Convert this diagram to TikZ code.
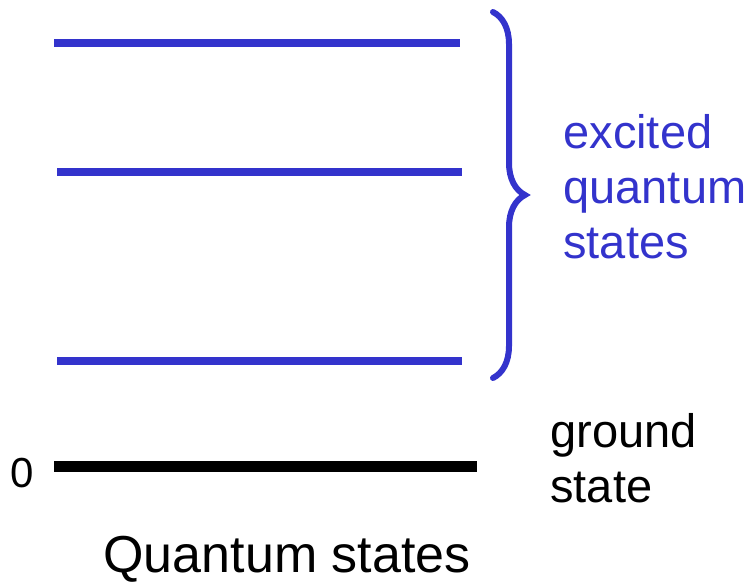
\documentclass[tikz,border=0pt]{standalone}
\usepackage{fontspec}
\setmainfont{Liberation Sans}
\usetikzlibrary{decorations.pathreplacing,positioning}
\definecolor{stateblue}{RGB}{51,51,204}

\begin{document}
\begin{tikzpicture}[
  x=0.5pt, y=-0.5pt,
  level/.style={draw=stateblue, line width=4pt},
  groundlevel/.style={draw=black, line width=5.5pt},
  lbl/.style={inner sep=0pt, align=left, font=\fontsize{23.5pt}{27.5pt}\selectfont},
  bracebar/.style={draw=stateblue, line width=3pt, line cap=round, decorate, decoration={brace, amplitude=16pt}}
]
  \useasboundingbox (0,0) rectangle (753,583);

  % Levels
  \draw[level] (54,43) -- (460,43);
  \draw[level] (57,172) -- (462,172);
  \draw[level] (57,361) -- (462,361);
  \draw[groundlevel] (54,466.5) -- (477,466.5);

  % Brace over the excited states
  \coordinate (btop) at (493,12);
  \coordinate (bbot) at (493,378);
  \draw[bracebar] (btop) -- (bbot);

  % Labels (base = last line)
  \node[lbl, anchor=base west, text=stateblue] (excited) at (563,258) {excited\\quantum\\states};
  \node[lbl, anchor=base west] (ground) at (550,502) {ground\\state};
  \node[inner sep=0pt, anchor=base, font=\fontsize{21pt}{25pt}\selectfont] (zero) at (22,487) {0};
  \node[inner sep=0pt, anchor=base, font=\fontsize{26pt}{31pt}\selectfont] (title) at (287,572) {Quantum states};
\end{tikzpicture}
\end{document}
